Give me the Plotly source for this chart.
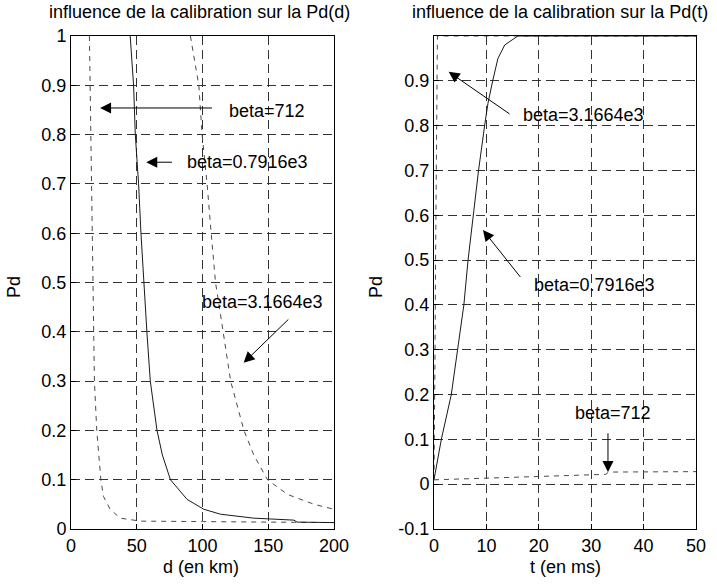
import plotly.graph_objects as go

# ---------------- data ----------------
# Left panel: Pd as a function of d (km)
d_b712 = [14, 14.5, 15.5, 16.5, 17, 17.8, 19.6, 21, 22.7, 24.7, 29.8, 37.4, 52.7, 100, 150, 200]
pd_b712 = [1.0, 0.9, 0.7, 0.5, 0.4, 0.3, 0.2, 0.15, 0.1, 0.066, 0.04, 0.022, 0.016, 0.015, 0.014, 0.013]

d_b0791 = [45, 47.6, 48.9, 51.4, 53.2, 55.2, 57.7, 60.3, 65.4, 69.5, 75.6, 88.3, 101, 113.7, 139, 169.5, 172, 200]
pd_b0791 = [1.0, 0.9, 0.8, 0.7, 0.6, 0.5, 0.4, 0.3, 0.2, 0.15, 0.1, 0.06, 0.04, 0.03, 0.022, 0.018, 0.014, 0.013]

d_b3166 = [90.8, 97.2, 99.7, 103.5, 106.6, 109.9, 115.7, 121.4, 131.5, 139, 149.4, 164.7, 185, 200]
pd_b3166 = [1.0, 0.9, 0.8, 0.7, 0.6, 0.5, 0.4, 0.3, 0.2, 0.15, 0.1, 0.07, 0.05, 0.04]

# Right panel: Pd as a function of t (ms)
t_b3166 = [0, 0.1, 0.2, 0.3, 0.45, 0.55, 0.65, 50]
pt_b3166 = [0.01, 0.1, 0.3, 0.5, 0.7, 0.9, 1.0, 1.0]

t_b0791 = [0, 1.4, 3.3, 4.45, 5.7, 6.5, 7.43, 8.5, 9.66, 10.3, 11.2, 12.2, 13.5, 16, 50]
pt_b0791 = [0.01, 0.1, 0.2, 0.3, 0.4, 0.5, 0.6, 0.7, 0.8, 0.85, 0.9, 0.95, 0.98, 1.0, 1.0]

t_b712 = [0, 32.8, 33.3, 50]
pt_b712 = [0.0097, 0.022, 0.027, 0.028]

left_xticks = [0, 50, 100, 150, 200]
left_yticks = [0, 0.1, 0.2, 0.3, 0.4, 0.5, 0.6, 0.7, 0.8, 0.9, 1]
left_ylabels = ["0", "0.1", "0.2", "0.3", "0.4", "0.5", "0.6", "0.7", "0.8", "0.9", "1"]
right_xticks = [0, 10, 20, 30, 40, 50]
right_yticks = [-0.1, 0, 0.1, 0.2, 0.3, 0.4, 0.5, 0.6, 0.7, 0.8, 0.9]
right_ylabels = ["-0.1", "0", "0.1", "0.2", "0.3", "0.4", "0.5", "0.6", "0.7", "0.8", "0.9"]

title_left = "influence de la calibration sur la Pd(d)"
title_right = "influence de la calibration sur la Pd(t)"

FONT = "Liberation Sans, Arial, sans-serif"
FS = 18
W, H = 717, 586

solid_col = "#1a1a1a"
dash_col = "#4a4a4a"

fig = go.Figure()

def add_line(x, y, xa, ya, dashed):
    fig.add_trace(go.Scatter(
        x=x, y=y, xaxis=xa, yaxis=ya, mode="lines",
        line=dict(color=dash_col if dashed else solid_col, width=1,
                  dash="5px,5px" if dashed else "solid"),
        hoverinfo="skip", showlegend=False))

add_line(d_b712, pd_b712, "x", "y", True)
add_line(d_b0791, pd_b0791, "x", "y", False)
add_line(d_b3166, pd_b3166, "x", "y", True)
add_line(t_b3166, pt_b3166, "x2", "y2", True)
add_line(t_b0791, pt_b0791, "x2", "y2", False)
add_line(t_b712, pt_b712, "x2", "y2", True)

axis_common = dict(
    showline=True, linecolor="black", linewidth=1, mirror=True,
    ticks="inside", ticklen=5, tickcolor="black", automargin=False,
    showgrid=True, gridcolor="#333333", gridwidth=1, griddash="9px,5px",
    zeroline=False, tickfont=dict(family=FONT, size=FS, color="black"),
    fixedrange=True,
)

xl = (71 / W, 334 / W)
xr = (434 / W, 696 / W)
yd = (1 - 529 / H, 1 - 36 / H)

fig.update_layout(
    width=W, height=H, margin=dict(l=0, r=0, t=0, b=0),
    paper_bgcolor="white", plot_bgcolor="white",
    font=dict(family=FONT, size=FS, color="black"),
    xaxis=dict(domain=xl, range=[0, 200], tickvals=left_xticks, anchor="y", **axis_common),
    yaxis=dict(domain=yd, range=[0, 1], tickvals=left_yticks, ticktext=left_ylabels, anchor="x", **axis_common),
    xaxis2=dict(domain=xr, range=[0, 50], tickvals=right_xticks, anchor="y2", **axis_common),
    yaxis2=dict(domain=yd, range=[-0.1, 1.0], tickvals=right_yticks, ticktext=right_ylabels, anchor="x2", **axis_common),
)

ann = []
# titles and axis labels (paper coords)
def paper_text(text, px, py, angle=0, size=FS):
    ann.append(dict(text=text, x=px / W, y=1 - py / H, xref="paper", yref="paper",
                    showarrow=False, xanchor="center", yanchor="middle", textangle=angle,
                    font=dict(family=FONT, size=size, color="black")))

paper_text(title_left, 199, 12)
paper_text(title_right, 560, 12)
paper_text("d (en km)", 201, 567)
paper_text("t (en ms)", 565, 567)
paper_text("Pd", 14, 287, angle=-90)
paper_text("Pd", 376, 287, angle=-90)

def arrow(xh, yh, xt, yt, xa, ya):
    ann.append(dict(text="", x=xh, y=yh, ax=xt, ay=yt, xref=xa, yref=ya, axref=xa, ayref=ya,
                    showarrow=True, arrowhead=2, arrowsize=2.2, arrowwidth=1, arrowcolor="black"))

def label(text, x, y, xa, ya):
    ann.append(dict(text=text, x=x, y=y, xref=xa, yref=ya, showarrow=False,
                    xanchor="left", yanchor="middle",
                    font=dict(family=FONT, size=FS, color="black")))

# left panel annotations
arrow(22.1, 0.854, 108.4, 0.854, "x", "y")
label("beta=712", 119, 0.848, "x", "y")
arrow(57.2, 0.744, 77.9, 0.744, "x", "y")
label("beta=0.7916e3", 87, 0.745, "x", "y")
arrow(131.3, 0.337, 166.4, 0.428, "x", "y")
label("beta=3.1664e3", 98, 0.46, "x", "y")

# right panel annotations
arrow(2.8, 0.92, 14.7, 0.824, "x2", "y2")
label("beta=3.1664e3", 16.6, 0.824, "x2", "y2")
arrow(9.35, 0.567, 16.7, 0.459, "x2", "y2")
label("beta=0.7916e3", 18.7, 0.444, "x2", "y2")
arrow(33.2, 0.027, 33.2, 0.117, "x2", "y2")
label("beta=712", 26.5, 0.159, "x2", "y2")

fig.update_layout(annotations=ann)

fig.write_html("out.html")
